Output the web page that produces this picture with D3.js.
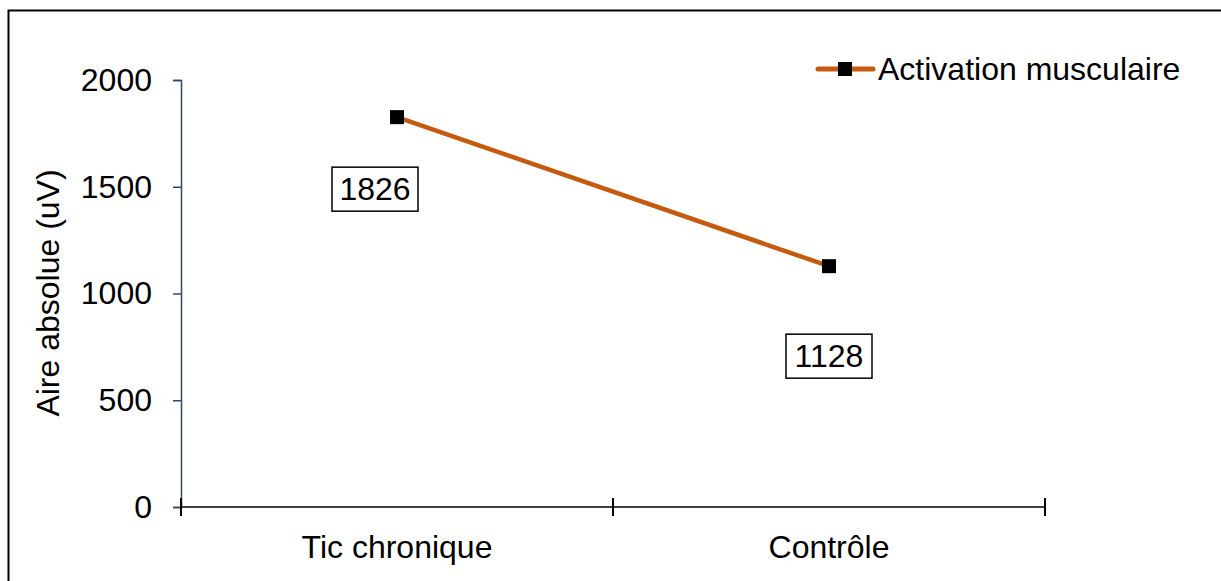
<!DOCTYPE html>
<html>
<head>
<meta charset="utf-8">
<script src="https://cdn.jsdelivr.net/npm/d3@7"></script>
<style>
  body { margin: 0; background: #fff; }
  text { font-family: "Liberation Sans", Arial, sans-serif; }
</style>
</head>
<body>
<div id="chart"></div>
<script>
var categories = ["Tic chronique", "Contrôle"];
var values = [1826, 1128];
var yTicks = [0, 500, 1000, 1500, 2000];
var seriesName = "Activation musculaire";
var yTitle = "Aire absolue (uV)";

var width = 1221, height = 581;
var fontSize = "32px";

var svg = d3.select("#chart").append("svg")
  .attr("width", width)
  .attr("height", height);

// outer frame (runs off the right and bottom edges)
svg.append("rect")
  .attr("x", 8.5).attr("y", 10.5)
  .attr("width", 1230).attr("height", 600)
  .attr("fill", "none")
  .attr("stroke", "#000")
  .attr("stroke-width", 2);

var x = d3.scaleBand()
  .domain(categories)
  .range([181, 1045])
  .padding(0);

var y = d3.scaleLinear()
  .domain([0, 2000])
  .range([507, 80]);

// y axis
var yAxis = svg.append("g")
  .attr("transform", "translate(181,0)")
  .call(d3.axisLeft(y).tickValues(yTicks).tickFormat(d3.format("d")).tickSize(8).tickPadding(21));
yAxis.select(".domain").attr("stroke", "#2e4a6b").attr("stroke-width", 1.5);
yAxis.selectAll(".tick line").attr("stroke", "#2e4a6b").attr("stroke-width", 1.5);
yAxis.selectAll(".tick text")
  .attr("fill", "#000")
  .style("font-size", fontSize);

// x axis: line with ticks crossing it at band edges
var xg = svg.append("g");
xg.append("line")
  .attr("x1", x.range()[0]).attr("x2", x.range()[1])
  .attr("y1", y(0)).attr("y2", y(0))
  .attr("stroke", "#000").attr("stroke-width", 1.5);
var edges = categories.map(function (c) { return x(c); }).concat([x.range()[1]]);
xg.selectAll(".xtick")
  .data(edges)
  .enter().append("line")
  .attr("x1", function (d) { return d; })
  .attr("x2", function (d) { return d; })
  .attr("y1", y(0) - 9)
  .attr("y2", y(0) + 9)
  .attr("stroke", "#000")
  .attr("stroke-width", 2);
xg.selectAll(".xlabel")
  .data(categories)
  .enter().append("text")
  .attr("x", function (d) { return x(d) + x.bandwidth() / 2; })
  .attr("y", 558)
  .attr("text-anchor", "middle")
  .style("font-size", fontSize)
  .text(function (d) { return d; });

// y title
svg.append("text")
  .attr("transform", "translate(59,293) rotate(-90)")
  .attr("text-anchor", "middle")
  .style("font-size", fontSize)
  .text(yTitle);

// series line
var pts = categories.map(function (c, i) {
  return { cat: c, v: values[i] };
});
var line = d3.line()
  .x(function (d) { return x(d.cat) + x.bandwidth() / 2; })
  .y(function (d) { return y(d.v); });

svg.append("path")
  .datum(pts)
  .attr("d", line)
  .attr("fill", "none")
  .attr("stroke", "#c55a11")
  .attr("stroke-width", 4.5);

svg.selectAll(".marker")
  .data(pts)
  .enter().append("rect")
  .attr("x", function (d) { return x(d.cat) + x.bandwidth() / 2 - 7; })
  .attr("y", function (d) { return y(d.v) - 7; })
  .attr("width", 14).attr("height", 14)
  .attr("fill", "#000");

// data labels in boxes, placed below-left of each point
var labelOffsets = [{ dx: -22, dy: 72 }, { dx: 0, dy: 90 }];
var lab = svg.selectAll(".dlabel")
  .data(pts)
  .enter().append("g")
  .attr("transform", function (d, i) {
    var cx = x(d.cat) + x.bandwidth() / 2 + labelOffsets[i].dx;
    var cy = y(d.v) + labelOffsets[i].dy;
    return "translate(" + cx + "," + cy + ")";
  });
lab.append("rect")
  .attr("x", -43).attr("y", -22)
  .attr("width", 86).attr("height", 44)
  .attr("fill", "#fff")
  .attr("stroke", "#000")
  .attr("stroke-width", 1.5);
lab.append("text")
  .attr("text-anchor", "middle")
  .attr("dy", "0.35em")
  .style("font-size", fontSize)
  .text(function (d) { return d.v; });

// legend
var lg = svg.append("g").attr("transform", "translate(818,69)");
lg.append("line")
  .attr("x1", 0).attr("x2", 55)
  .attr("stroke", "#c55a11")
  .attr("stroke-width", 5)
  .attr("stroke-linecap", "round");
lg.append("rect")
  .attr("x", 20).attr("y", -7)
  .attr("width", 14).attr("height", 14)
  .attr("fill", "#000");
lg.append("text")
  .attr("x", 60)
  .attr("dy", "0.35em")
  .style("font-size", fontSize)
  .text(seriesName);
</script>
</body>
</html>
